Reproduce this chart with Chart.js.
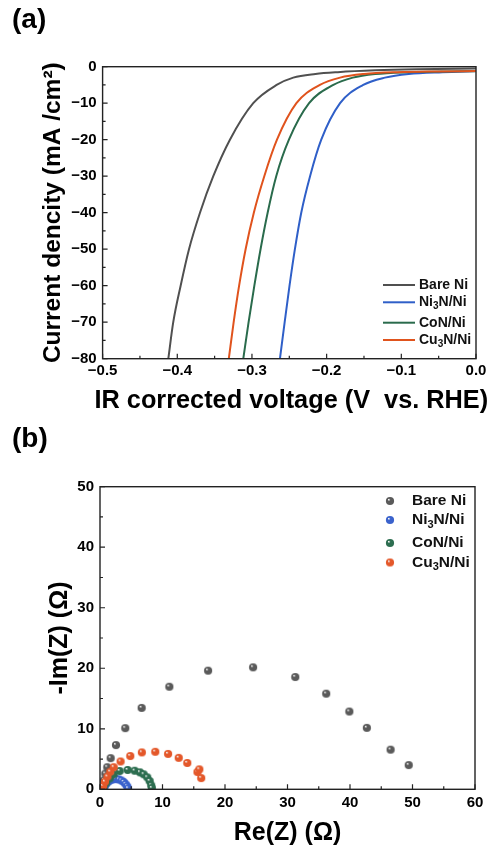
<!DOCTYPE html>
<html><head><meta charset="utf-8">
<script src="https://cdn.jsdelivr.net/npm/chart.js@4"></script>
<style>body{margin:0;background:#fff;width:493px;height:848px;overflow:hidden}canvas{position:absolute;left:0}</style>
</head><body>
<canvas id="lsv" width="493" height="420" style="top:0"></canvas>
<canvas id="eis" width="493" height="428" style="top:420px"></canvas>
<script>
// ---------- data ----------
const seriesNames = ['Bare Ni', 'Ni₃N/Ni', 'CoN/Ni', 'Cu₃N/Ni'];
const lineColors = ['#505050', '#2f5fc8', '#2a6b4c', '#e0531d'];
const dotColors = ['#5a5a5a', '#3a62cc', '#2d6e50', '#e4582a'];

// (a) LSV: voltage (V vs RHE) and current density (mA/cm2)
const bareNiV = [-0.412, -0.4054, -0.3955, -0.3843, -0.3696, -0.3518, -0.3295, -0.2983, -0.267, -0.2447, -0.215, -0.185, -0.135, -0.08, 0.0];
const bareNiJ = [-80, -70, -60, -50, -40, -30, -20, -10, -5, -3, -2, -1.5, -1.0, -0.7, -0.5];
const ni3nV = [-0.2625, -0.2562, -0.2497, -0.2425, -0.234, -0.2222, -0.2072, -0.182, -0.151, -0.122, -0.09, -0.045, 0.0];
const ni3nJ = [-80, -70, -60, -50, -40, -30, -20, -10, -5, -3, -2, -1.5, -1.2];
const conV = [-0.3116, -0.3045, -0.2968, -0.2885, -0.279, -0.2675, -0.2505, -0.2235, -0.191, -0.165, -0.135, -0.09, -0.04, 0.0];
const conJ = [-80, -70, -60, -50, -40, -30, -20, -10, -5, -3, -2, -1.5, -1.3, -1.25];
const cu3nV = [-0.331, -0.3245, -0.3172, -0.3085, -0.2975, -0.2835, -0.2665, -0.2405, -0.209, -0.182, -0.15, -0.105, -0.05, 0.0];
const cu3nJ = [-80, -70, -60, -50, -40, -30, -20, -10, -5, -3, -2, -1.5, -1.3, -1.2];

// (b) EIS Nyquist: Re(Z) and -Im(Z) in ohm
const bareNiRe = [0.45, 0.55, 0.65, 0.85, 1.17, 1.71, 2.56, 4.05, 6.67, 11.1, 17.3, 24.5, 31.25, 36.2, 39.9, 42.7, 46.5, 49.4];
const bareNiIm = [0.2, 0.8, 1.5, 2.6, 3.65, 5.15, 7.3, 10.1, 13.45, 16.95, 19.6, 20.15, 18.55, 15.8, 12.85, 10.15, 6.55, 4.0];
const ni3nRe = [0.6, 0.75, 0.95, 1.2, 1.5, 1.85, 2.25, 2.65, 3.05, 3.45, 3.8, 4.1, 4.35, 4.5];
const ni3nIm = [0.1, 0.5, 0.85, 1.15, 1.4, 1.58, 1.68, 1.7, 1.62, 1.45, 1.2, 0.85, 0.5, 0.15];
const conRe = [0.4, 0.6, 1.0, 1.55, 2.19, 3.15, 4.43, 5.55, 6.4, 6.99, 7.57, 7.95, 8.2, 8.3];
const conIm = [0.1, 0.5, 1.1, 1.8, 2.48, 3.02, 3.19, 3.07, 2.8, 2.48, 1.98, 1.37, 0.65, 0.2];
const cu3nRe = [0.3, 0.5, 0.8, 1.2, 1.65, 2.2, 3.3, 4.85, 6.7, 8.85, 10.9, 12.6, 13.97, 15.6, 15.9, 16.2];
const cu3nIm = [0.1, 0.55, 1.26, 2.1, 2.9, 3.65, 4.6, 5.5, 6.1, 6.2, 5.85, 5.2, 4.35, 2.85, 3.3, 1.85];

// axis ticks
const lsvXMajor = [-0.5, -0.4, -0.3, -0.2, -0.1, 0.0];
const lsvXMinor = [-0.45, -0.35, -0.25, -0.15, -0.05];
const lsvYMajor = [0, -10, -20, -30, -40, -50, -60, -70, -80];
const lsvYMinor = [-5, -15, -25, -35, -45, -55, -65, -75];
const eisXMajor = [0, 10, 20, 30, 40, 50, 60];
const eisXMinor = [5, 15, 25, 35, 45, 55];
const eisYMajor = [0, 10, 20, 30, 40, 50];
const eisYMinor = [5, 15, 25, 35, 45];

// ---------- helpers ----------
const FONT = '"Liberation Sans", Arial, "DejaVu Sans", sans-serif';
const SUB = '₀₁₂₃₄₅₆₇₈₉';
const zip = (xs, ys) => xs.map((v, i) => ({x: v, y: ys[i]}));
const fmtMinus = (v, d) => { const s = Math.abs(v).toFixed(d); return v < 0 ? '\u2212' + s : s; };

function drawRich(ctx, text, x, y, size) {
  let cx = x;
  ctx.textBaseline = 'middle';
  ctx.textAlign = 'left';
  for (const ch of text) {
    const i = SUB.indexOf(ch);
    if (i >= 0) {
      ctx.font = `bold ${Math.round(size * 0.68)}px ${FONT}`;
      ctx.fillText(String(i), cx, y + size * 0.3);
      cx += ctx.measureText(String(i)).width;
    } else {
      ctx.font = `bold ${size}px ${FONT}`;
      ctx.fillText(ch, cx, y);
      cx += ctx.measureText(ch).width;
    }
  }
}

function sphere(color, r) {
  const s = Math.ceil(2 * r + 1);
  const c = document.createElement('canvas');
  c.width = c.height = s;
  const g = c.getContext('2d');
  const cx = s / 2;
  const grad = g.createRadialGradient(cx - r * 0.35, cx - r * 0.4, r * 0.05, cx, cx, r);
  grad.addColorStop(0, '#f4f4f4');
  grad.addColorStop(0.35, color);
  grad.addColorStop(1, color);
  g.fillStyle = grad;
  g.beginPath(); g.arc(cx, cx, r, 0, Math.PI * 2); g.fill();
  return c;
}

function framePlugin(xMinor, yMinor) {
  return {
    id: 'frame',
    afterDatasetsDraw(chart) {
      const {ctx, chartArea: a, scales: {x, y}} = chart;
      ctx.save();
      ctx.strokeStyle = '#222';
      ctx.lineWidth = 1.4;
      ctx.strokeRect(a.left, a.top, a.right - a.left, a.bottom - a.top);
      ctx.lineWidth = 1.2;
      ctx.beginPath();
      x.ticks.forEach(t => { const p = x.getPixelForValue(t.value); ctx.moveTo(p, a.bottom); ctx.lineTo(p, a.bottom - 5); });
      xMinor.forEach(v => { const p = x.getPixelForValue(v); ctx.moveTo(p, a.bottom); ctx.lineTo(p, a.bottom - 3); });
      y.ticks.forEach(t => { const p = y.getPixelForValue(t.value); ctx.moveTo(a.left, p); ctx.lineTo(a.left + 5, p); });
      yMinor.forEach(v => { const p = y.getPixelForValue(v); ctx.moveTo(a.left, p); ctx.lineTo(a.left + 3, p); });
      ctx.stroke();
      ctx.restore();
    }
  };
}

function panelLabel(text, baseline) {
  return {
    id: 'panel',
    afterDraw(chart) {
      const ctx = chart.ctx;
      ctx.save();
      ctx.fillStyle = '#000';
      ctx.font = `bold 28px ${FONT}`;
      ctx.textAlign = 'left';
      ctx.textBaseline = 'alphabetic';
      ctx.fillText(text, 12, baseline);
      ctx.restore();
    }
  };
}

const tickFont = {family: FONT, size: 15, weight: 'bold'};
const titleFont = {family: FONT, size: 25, weight: 'bold'};

// ---------- (a) LSV ----------
const lsvSets = [[bareNiV, bareNiJ], [ni3nV, ni3nJ], [conV, conJ], [cu3nV, cu3nJ]];
const lsvXTitle = 'IR corrected voltage (V  vs. RHE)';
new Chart(document.getElementById('lsv'), {
  type: 'scatter',
  data: {
    datasets: lsvSets.map((s, i) => ({
      label: seriesNames[i],
      data: zip(s[0], s[1]),
      showLine: true,
      borderColor: lineColors[i],
      backgroundColor: lineColors[i],
      borderWidth: 2,
      pointRadius: 0,
      cubicInterpolationMode: 'monotone',
      order: 4 - i
    }))
  },
  options: {
    responsive: false,
    animation: false,
    devicePixelRatio: 1,
    layout: {padding: {top: 66.7, right: 17, left: 0, bottom: 0}},
    plugins: {legend: {display: false}, tooltip: {enabled: false}},
    scales: {
      x: {
        type: 'linear', min: -0.5, max: 0,
        afterBuildTicks: s => { s.ticks = lsvXMajor.map(v => ({value: v})); },
        afterFit: s => { s.height = 61.3; },
        grid: {display: false, drawTicks: false},
        border: {display: false},
        ticks: {font: tickFont, color: '#000', padding: 3, maxRotation: 0, callback: v => fmtMinus(v, 1)},
        title: {display: false}
      },
      y: {
        type: 'linear', min: -80, max: 0,
        afterBuildTicks: s => { s.ticks = lsvYMajor.map(v => ({value: v})); },
        afterFit: s => { s.width = 102.6; },
        grid: {display: false, drawTicks: false},
        border: {display: false},
        ticks: {font: tickFont, color: '#000', padding: 6, callback: v => fmtMinus(v, 0)},
        title: {display: true, text: 'Current dencity (mA /cm²)', font: {family: FONT, size: 24.5, weight: 'bold'}, color: '#000', padding: {top: 38.5, bottom: 0}}
      }
    }
  },
  plugins: [framePlugin(lsvXMinor, lsvYMinor), panelLabel('(a)', 28), {
    id: 'lsvLegend',
    afterDraw(chart) {
      const ctx = chart.ctx;
      const a = chart.chartArea;
      ctx.save();
      // x-axis title (drawn here so it may be wider than the plot area)
      ctx.fillStyle = '#000';
      ctx.font = `bold 25.3px ${FONT}`;
      ctx.textAlign = 'center';
      ctx.textBaseline = 'middle';
      ctx.fillText(lsvXTitle, (a.left + a.right) / 2 + 2, 401);
      const rows = [285, 302.3, 322.7, 340];
      seriesNames.forEach((n, i) => {
        ctx.strokeStyle = lineColors[i];
        ctx.lineWidth = 2;
        ctx.beginPath(); ctx.moveTo(383, rows[i]); ctx.lineTo(415, rows[i]); ctx.stroke();
        ctx.fillStyle = '#111';
        drawRich(ctx, n, 419, rows[i], 14);
      });
      ctx.restore();
    }
  }]
});

// ---------- (b) EIS ----------
const eisSets = [[bareNiRe, bareNiIm], [ni3nRe, ni3nIm], [conRe, conIm], [cu3nRe, cu3nIm]];
const spheres = dotColors.map(c => sphere(c, 4.1));
new Chart(document.getElementById('eis'), {
  type: 'scatter',
  data: {
    datasets: eisSets.map((s, i) => ({
      label: seriesNames[i],
      data: zip(s[0], s[1]),
      pointStyle: spheres[i],
      pointRadius: 4.1,
      backgroundColor: dotColors[i],
      borderColor: dotColors[i],
      order: 4 - i
    }))
  },
  options: {
    responsive: false,
    animation: false,
    devicePixelRatio: 1,
    layout: {padding: {top: 66.7, right: 18, left: 0, bottom: 0}},
    plugins: {legend: {display: false}, tooltip: {enabled: false}},
    scales: {
      x: {
        type: 'linear', min: 0, max: 60,
        afterBuildTicks: s => { s.ticks = eisXMajor.map(v => ({value: v})); },
        afterFit: s => { s.height = 58.7; },
        grid: {display: false, drawTicks: false},
        border: {display: false},
        ticks: {font: tickFont, color: '#000', padding: 5, maxRotation: 0},
        title: {display: true, text: 'Re(Z) (Ω)', font: titleFont, color: '#000', padding: {top: 0, bottom: 0}}
      },
      y: {
        type: 'linear', min: 0, max: 50,
        afterBuildTicks: s => { s.ticks = eisYMajor.map(v => ({value: v})); },
        afterFit: s => { s.width = 100; },
        grid: {display: false, drawTicks: false},
        border: {display: false},
        ticks: {font: tickFont, color: '#000', padding: 6},
        title: {display: true, text: '-Im(Z) (Ω)', font: titleFont, color: '#000', padding: {top: 45, bottom: 0}}
      }
    }
  },
  plugins: [framePlugin(eisXMinor, eisYMinor), panelLabel('(b)', 27), {
    id: 'eisLegend',
    afterDraw(chart) {
      const ctx = chart.ctx;
      const rows = [81, 100, 123, 142.5];
      ctx.save();
      seriesNames.forEach((n, i) => {
        const img = spheres[i];
        ctx.drawImage(img, 390 - img.width / 2, rows[i] - img.height / 2);
        ctx.fillStyle = '#111';
        drawRich(ctx, n, 412, rows[i], 15.5);
      });
      ctx.restore();
    }
  }]
});
</script>
</body></html>
